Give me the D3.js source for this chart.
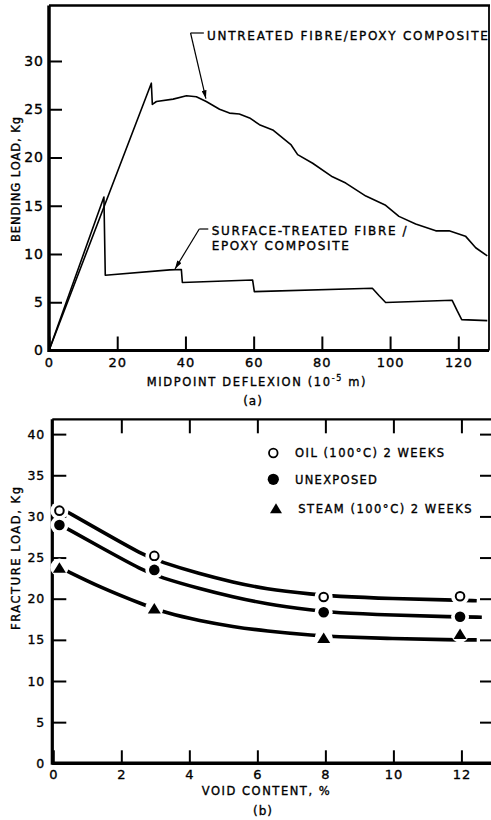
<!DOCTYPE html>
<html><head><meta charset="utf-8">
<script src="https://cdn.jsdelivr.net/npm/d3@7"></script>
<style>
html,body{margin:0;padding:0;background:#fff;}
svg{display:block;}
text{font-family:"DejaVu Sans",sans-serif;fill:#000;stroke:#000;stroke-width:0.35px;}
</style></head><body>
<svg id="c" width="491" height="820"></svg>
<script>
// ---------- DATA: chart (a) ----------
const untreatedX = [0, 30.0, 30.3, 31.5, 36.4, 40.3, 43.2, 46.1, 50.0, 52.9, 55.8, 58.8, 61.7, 65.6, 71.0, 72.9, 77.3, 83.1, 87.0, 92.9, 98.7, 102.6, 107.5, 113.4, 117.3, 122.1, 125.1, 128.5];
const untreatedY = [0, 27.7, 25.5, 25.8, 26.05, 26.4, 26.3, 25.8, 25.0, 24.6, 24.5, 24.1, 23.4, 22.85, 21.3, 20.3, 19.4, 18.0, 17.35, 16.0, 15.05, 13.9, 13.1, 12.4, 12.4, 11.85, 10.65, 9.8];
const treatedX = [0, 16.1, 16.5, 35.4, 38.8, 39.1, 59.7, 60.2, 94.8, 96.8, 98.7, 118.2, 119.7, 121.0, 128.5];
const treatedY = [0, 15.9, 7.8, 8.35, 8.4, 7.05, 7.3, 6.1, 6.45, 5.67, 4.98, 5.2, 4.1, 3.2, 3.1];
const xTicksA = [0, 20, 40, 60, 80, 100, 120];
const yTicksA = [0, 5, 10, 15, 20, 25, 30];
const untreatedLabel = "UNTREATED FIBRE/EPOXY COMPOSITE";
const treatedLabel = ["SURFACE-TREATED FIBRE /", "EPOXY COMPOSITE"];

// ---------- DATA: chart (b) ----------
const voidContent = [0.18, 2.97, 7.95, 11.96];
const oilLoad = [30.7, 25.2, 20.2, 20.3];
const unexposedLoad = [28.95, 23.5, 18.35, 17.8];
const steamLoad = [23.8, 18.85, 15.25, 15.75];
const oilCurveX = [0.39, 1.37, 2.65, 3.14, 4.31, 5.29, 6.2, 7.7, 8.24, 10.0, 11.67, 12.45];
const oilCurveY = [30.6, 28.3, 25.3, 24.5, 23.0, 22.0, 21.2, 20.5, 20.3, 20.0, 19.85, 19.75];
const unexpCurveX = [0.39, 1.37, 2.65, 3.14, 4.31, 5.29, 6.2, 7.7, 8.24, 10.0, 11.72, 12.6];
const unexpCurveY = [28.55, 26.3, 23.4, 22.6, 21.2, 20.2, 19.4, 18.55, 18.3, 18.0, 17.8, 17.75];
const steamCurveX = [0.34, 1.37, 2.7, 3.29, 4.31, 5.29, 6.2, 7.75, 8.19, 10.0, 11.67, 12.45];
const steamCurveY = [23.5, 21.4, 19.2, 18.3, 17.3, 16.6, 16.1, 15.5, 15.4, 15.15, 15.0, 15.0];
const xTicksB = [0, 2, 4, 6, 8, 10, 12];
const yTicksB = [0, 5, 10, 15, 20, 25, 30, 35, 40];
const legendLabels = ["OIL (100°C) 2 WEEKS", "UNEXPOSED", "STEAM (100°C) 2 WEEKS"];

// ---------- helpers ----------
const svg = d3.select("#c");
function fit(t, w) {
  const n = t.text().length;
  const nat = t.node().getComputedTextLength();
  t.attr("letter-spacing", ((w - nat) / (n - 1)).toFixed(2));
  return t;
}
const defs = svg.append("defs");
defs.append("marker").attr("id", "ah").attr("viewBox", "0 0 10 6").attr("refX", 10).attr("refY", 3)
  .attr("markerWidth", 9).attr("markerHeight", 5).attr("markerUnits", "userSpaceOnUse").attr("orient", "auto")
  .append("path").attr("d", "M0,0 L10,3 L0,6 Z").attr("fill", "#000");

// ================= CHART (a) =================
const xA = d3.scaleLinear().domain([0, 129]).range([49, 489]);
const yA = d3.scaleLinear().domain([0, 35.75]).range([350.5, 5.5]);
const gA = svg.append("g");

gA.append("line").attr("x1", xA(0)).attr("x2", xA(0)).attr("y1", yA.range()[1]).attr("y2", yA(0) + 1.5).attr("stroke", "#000").attr("stroke-width", 3.5);
gA.append("line").attr("x1", xA(0)).attr("x2", xA.range()[1]).attr("y1", yA(0)).attr("y2", yA(0)).attr("stroke", "#000").attr("stroke-width", 3.2);
gA.append("line").attr("x1", xA(0)).attr("x2", xA.range()[1] + 1).attr("y1", yA.range()[1]).attr("y2", yA.range()[1]).attr("stroke", "#000").attr("stroke-width", 2.5);
gA.append("line").attr("x1", xA.range()[1]).attr("x2", xA.range()[1]).attr("y1", yA.range()[1]).attr("y2", yA(0)).attr("stroke", "#000").attr("stroke-width", 1.8);

const axYA = gA.append("g").attr("transform", `translate(${xA(0)},0)`)
  .call(d3.axisLeft(yA).tickValues(yTicksA).tickSize(-13).tickPadding(5).tickFormat(d3.format("d")));
const axXA = gA.append("g").attr("transform", `translate(0,${yA(0)})`)
  .call(d3.axisBottom(xA).tickValues(xTicksA).tickSize(-14).tickPadding(7).tickFormat(d3.format("d")));
[axYA, axXA].forEach(a => {
  a.select(".domain").remove();
  a.selectAll(".tick line").attr("stroke", "#000").attr("stroke-width", 2);
  a.selectAll(".tick text").attr("fill", "#000").style("font-family", '"DejaVu Sans",sans-serif').attr("letter-spacing", 1);
});
axYA.selectAll(".tick text").style("font-size", "14px");
axXA.selectAll(".tick text").style("font-size", "13px");

const lineA = d3.line().x(d => xA(d[0])).y(d => yA(d[1]));
gA.append("path").datum(d3.zip(untreatedX, untreatedY)).attr("d", lineA)
  .attr("fill", "none").attr("stroke", "#000").attr("stroke-width", 1.6).attr("stroke-linejoin", "round");
gA.append("path").datum(d3.zip(treatedX, treatedY)).attr("d", lineA)
  .attr("fill", "none").attr("stroke", "#000").attr("stroke-width", 1.6).attr("stroke-linejoin", "round");

gA.append("line").attr("x1", xA(41.5)).attr("y1", yA(32.9)).attr("x2", xA(45.4)).attr("y2", yA(32.9)).attr("stroke", "#000").attr("stroke-width", 1.2);
gA.append("line").attr("x1", xA(41.5)).attr("y1", yA(32.9)).attr("x2", xA(46.0)).attr("y2", yA(26.1))
  .attr("stroke", "#000").attr("stroke-width", 1.2).attr("marker-end", "url(#ah)");
fit(gA.append("text").attr("x", xA(46.3)).attr("y", yA(32.7) + 4.6).style("font-size", "12px").text(untreatedLabel), 281);

gA.append("line").attr("x1", xA(44.06)).attr("y1", yA(12.59)).attr("x2", xA(46.7)).attr("y2", yA(12.59)).attr("stroke", "#000").attr("stroke-width", 1.2);
gA.append("line").attr("x1", xA(44.06)).attr("y1", yA(12.59)).attr("x2", xA(36.94)).attr("y2", yA(8.45))
  .attr("stroke", "#000").attr("stroke-width", 1.2).attr("marker-end", "url(#ah)");
fit(gA.append("text").attr("x", xA(47.7)).attr("y", yA(12.59) + 5.5).style("font-size", "12px").text(treatedLabel[0]), 195);
fit(gA.append("text").attr("x", xA(47.7)).attr("y", yA(12.59) + 20.5).style("font-size", "12px").text(treatedLabel[1]), 137);

const tA = svg.append("text").attr("x", 146.7).attr("y", 386).style("font-size", "11.5px");
tA.append("tspan").text("MIDPOINT DEFLEXION (10");
tA.append("tspan").attr("dy", -5).style("font-size", "8px").text("-5");
tA.append("tspan").attr("dy", 5).text(" m)");
fit(tA, 219);
svg.append("text").attr("x", 253).attr("y", 404.5).attr("text-anchor", "middle").style("font-size", "12px").attr("letter-spacing", 1).text("(a)");
fit(svg.append("text").attr("transform", "translate(19.5,242) rotate(-90)").style("font-size", "11.5px").text("BENDING LOAD, Kg"), 125);

// ================= CHART (b) =================
const xB = d3.scaleLinear().domain([0, 12.87]).range([53.3, 491]);
const yB = d3.scaleLinear().domain([0, 41.8]).range([763.3, 419.3]);
const gB = svg.append("g");

gB.append("line").attr("x1", xB(0) - 1).attr("x2", xB(0) - 1).attr("y1", yB.range()[1]).attr("y2", yB(0) + 1.5).attr("stroke", "#000").attr("stroke-width", 3.2);
gB.append("line").attr("x1", xB(0) - 1).attr("x2", xB.range()[1]).attr("y1", yB(0)).attr("y2", yB(0)).attr("stroke", "#000").attr("stroke-width", 3.5);
gB.append("line").attr("x1", xB(0) - 1).attr("x2", xB.range()[1]).attr("y1", yB.range()[1]).attr("y2", yB.range()[1]).attr("stroke", "#000").attr("stroke-width", 2.2);

const axYB = gB.append("g").attr("transform", `translate(${xB(0) - 1},0)`)
  .call(d3.axisLeft(yB).tickValues(yTicksB).tickSize(-14).tickPadding(7).tickFormat(d3.format("d")));
const axXB = gB.append("g").attr("transform", `translate(0,${yB(0)})`)
  .call(d3.axisBottom(xB).tickValues(xTicksB).tickSize(-13).tickPadding(6).tickFormat(d3.format("d")));
const axTB = gB.append("g").attr("transform", `translate(0,${yB.range()[1]})`)
  .call(d3.axisTop(xB).tickValues(xTicksB.slice(1)).tickSize(-14).tickFormat(""));
const axRB = gB.append("g").attr("transform", `translate(${xB.range()[1]},0)`)
  .call(d3.axisRight(yB).tickValues(yTicksB.slice(1)).tickSize(-11).tickFormat(""));
[axYB, axXB, axTB, axRB].forEach(a => {
  a.select(".domain").remove();
  a.selectAll(".tick line").attr("stroke", "#000").attr("stroke-width", 2);
  a.selectAll(".tick text").attr("fill", "#000").style("font-family", '"DejaVu Sans",sans-serif').attr("letter-spacing", 1);
});
axYB.selectAll(".tick text").style("font-size", "12.5px");
axXB.selectAll(".tick text").style("font-size", "13px");

const lineB = d3.line().x(d => xB(d[0])).y(d => yB(d[1])).curve(d3.curveBasis);
[[oilCurveX, oilCurveY], [unexpCurveX, unexpCurveY], [steamCurveX, steamCurveY]].forEach(([cx, cy]) => {
  gB.append("path").datum(d3.zip(cx, cy)).attr("d", lineB)
    .attr("fill", "none").attr("stroke", "#000").attr("stroke-width", 3.6).attr("stroke-linecap", "butt");
});

const tri = (w, h) => `M0,${-h / 2}L${w / 2},${h / 2}L${-w / 2},${h / 2}Z`;
function drawMarkers(vals, kind) {
  const g = gB.append("g");
  voidContent.forEach((v, i) => {
    g.append("circle").attr("cx", xB(v)).attr("cy", yB(vals[i])).attr("r", 9).attr("fill", "#fff");
  });
  voidContent.forEach((v, i) => {
    const px = xB(v), py = yB(vals[i]);
    if (kind === "open") g.append("circle").attr("cx", px).attr("cy", py).attr("r", 4.3).attr("fill", "#fff").attr("stroke", "#000").attr("stroke-width", 2);
    else if (kind === "filled") g.append("circle").attr("cx", px).attr("cy", py).attr("r", 5.3).attr("fill", "#000");
    else g.append("path").attr("transform", `translate(${px},${py})`).attr("d", tri(13, 10.5)).attr("fill", "#000");
  });
}
drawMarkers(oilLoad, "open");
drawMarkers(unexposedLoad, "filled");
drawMarkers(steamLoad, "tri");

const legY = [453, 479.3, 508.3];
gB.append("circle").attr("cx", 273.3).attr("cy", legY[0]).attr("r", 4.3).attr("fill", "#fff").attr("stroke", "#000").attr("stroke-width", 1.8);
gB.append("circle").attr("cx", 273.3).attr("cy", legY[1]).attr("r", 5.6).attr("fill", "#000");
gB.append("path").attr("transform", `translate(276,${legY[2]})`).attr("d", tri(12, 10)).attr("fill", "#000");
const legX = [295, 295, 298.3], legW = [149, 82, 173.4];
legendLabels.forEach((s, i) => {
  fit(gB.append("text").attr("x", legX[i]).attr("y", legY[i] + 4.3).style("font-size", "11.5px").text(s), legW[i]);
});

fit(svg.append("text").attr("x", 201.7).attr("y", 794.5).style("font-size", "11.5px").text("VOID CONTENT, %"), 128);
svg.append("text").attr("x", 263).attr("y", 815).attr("text-anchor", "middle").style("font-size", "12px").attr("letter-spacing", 1).text("(b)");
fit(svg.append("text").attr("transform", "translate(19.5,630) rotate(-90)").style("font-size", "11.5px").text("FRACTURE LOAD, Kg"), 143);
</script>
</body></html>
